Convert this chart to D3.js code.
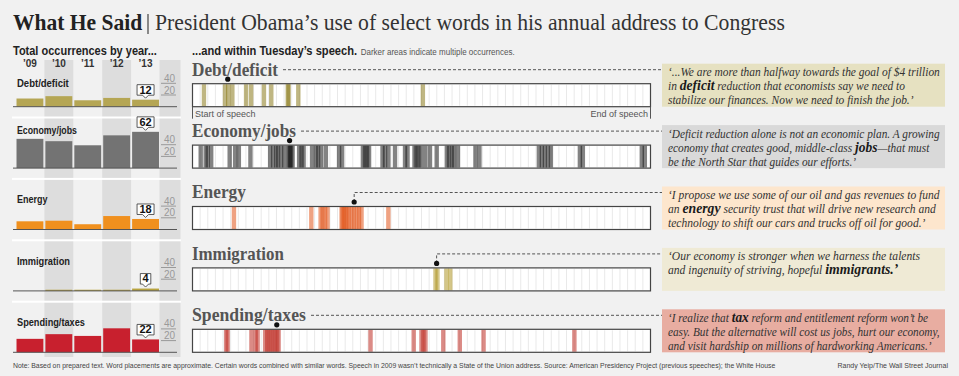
<!DOCTYPE html>
<html>
<head>
<meta charset="utf-8">
<script src="https://cdn.jsdelivr.net/npm/d3@7"></script>
<style>
  body { margin: 0; background: #f1f1f1; }
  text { font-family: "Liberation Sans", Roboto, sans-serif; }
</style>
</head>
<body>
<div id="container"></div>
<script>
const width = 959, height = 376;

/* DATA */
const years = ["’09", "’10", "’11", "’12", "’13"];
const topics = ["Debt/deficit", "Economy/jobs", "Energy", "Immigration", "Spending/taxes"];

// total occurrences per annual address
const debtByYear = [14, 18, 11, 15, 12];
const economyByYear = [50, 46, 39, 56, 62];
const energyByYear = [14, 15, 9, 23, 18];
const immigrationByYear = [0, 2, 2, 2, 4];
const spendingByYear = [23, 31, 28, 41, 22];
const axisTicks = [20, 40];

// where each occurrence falls in Tuesday's speech (% of the way through)
const debtInSpeech = [2.5, 7.1, 7.8, 8.7, 11.7, 12.8, 15.6, 17.2, 20.8, 21.0, 23.1, 50.3];
const economyInSpeech = [1.79, 2.88, 3.32, 4.08, 8.12, 9.31, 10.12, 12.65, 16.95, 17.6, 18.26, 18.69,
  19.35, 20.0, 20.88, 21.2, 21.31, 21.53, 21.86, 23.28, 23.82, 24.26, 26.11, 26.98, 27.42, 28.08,
  29.12, 32.0, 32.66, 37.24, 37.67, 38.11, 38.55, 41.49, 42.04, 42.76, 44.22, 46.4, 46.95, 48.47,
  48.91, 49.35, 49.89, 50.83, 51.85, 53.32, 55.56, 56.0, 56.65, 57.09, 57.96, 61.78, 62.65, 75.63,
  76.29, 76.94, 77.6, 78.25, 84.58, 85.23, 98.1, 98.76];
const energyInSpeech = [9.05, 25.94, 27.97, 28.4, 28.95, 29.49, 32.55, 32.77, 33.09, 33.42, 33.75,
  34.18, 34.73, 35.27, 35.82, 36.36, 36.91, 42.76];
const immigrationInSpeech = [53.05, 53.49, 55.45, 56.28];
const spendingInSpeech = [7.35, 7.68, 12.87, 13.79, 14.22, 15.86, 16.3, 16.73, 17.17, 17.61, 18.04,
  18.48, 18.8, 38.87, 48.3, 50.0, 50.44, 50.87, 54.76, 58.36, 63.55, 83.38];

// spot of the quoted passage (% of speech)
const quoteSpots = [7.7, 21.2, 35.3, 53.3, 18.4];

// quotes, keyword between asterisks
const debtQuote = ["‘...We are more than halfway towards the goal of $4 trillion",
  "in *deficit* reduction that economists say we need to",
  "stabilize our finances. Now we need to finish the job.’"];
const economyQuote = ["‘Deficit reduction alone is not an economic plan.  A growing",
  "economy that creates good, middle-class *jobs*—that must",
  "be the North Star that guides our efforts.’"];
const energyQuote = ["‘I propose we use some of our oil and gas revenues to fund",
  "an *energy* security trust that will drive new research and",
  "technology to shift our cars and trucks off oil for good.’"];
const immigrationQuote = ["‘Our economy is stronger when we harness the talents",
  "and ingenuity of striving, hopeful *immigrants.’*"];
const spendingQuote = ["‘I realize that *tax* reform and entitlement reform won’t be",
  "easy. But the alternative will cost us jobs, hurt our economy,",
  "and visit hardship on millions of hardworking Americans.’"];

const byYear = [debtByYear, economyByYear, energyByYear, immigrationByYear, spendingByYear];
const inSpeech = [debtInSpeech, economyInSpeech, energyInSpeech, immigrationInSpeech, spendingInSpeech];
const quotes = [debtQuote, economyQuote, energyQuote, immigrationQuote, spendingQuote];

/* STYLES */
const barColors = ["#b5a654", "#737373", "#f0901e", "#b8a33e", "#c8202e"];
const markColors = ["#8a7a1c", "#1e1e1e", "#e2561b", "#b09826", "#bd2b22"];
const quoteFills = ["#e6e1c1", "#d9d9d9", "#fde6cd", "#efead5", "#e8ada1"];

const baseline0 = 106.7, rowStep = 61.4;
const baseY = i => baseline0 + i * rowStep;

// squeeze a text element horizontally (about its anchor) if it runs wider than w
function fit(sel, w) {
  sel.each(function () {
    const bbw = this.getBBox().width;
    if (bbw > w) {
      const ax = +this.getAttribute("x");
      const k = w / bbw;
      d3.select(this).attr("transform", `translate(${ax},0) scale(${k},1) translate(${-ax},0)`);
    }
  });
  return sel;
}

const svg = d3.select("#container")
  .append("svg")
  .attr("width", width)
  .attr("height", height);

svg.append("rect").attr("width", width).attr("height", height).attr("fill", "#f1f1f1");

/* TITLE */
svg.append("text").attr("x", 13).attr("y", 30)
  .style("font-family", "'Liberation Serif', serif").style("font-weight", "bold")
  .style("font-size", "24px").attr("fill", "#222").text("What He Said")
  .call(fit, 130);
svg.append("line").attr("x1", 148).attr("x2", 148).attr("y1", 14).attr("y2", 34)
  .attr("stroke", "#444").attr("stroke-width", 1.2);
svg.append("text").attr("x", 155).attr("y", 30)
  .style("font-family", "'Liberation Serif', serif")
  .style("font-size", "23px").attr("fill", "#333")
  .text("President Obama’s use of select words in his annual address to Congress")
  .call(fit, 630);

svg.append("text").attr("x", 13).attr("y", 55)
  .style("font-weight", "bold").style("font-size", "12.5px").attr("fill", "#222")
  .text("Total occurrences by year...").call(fit, 144);

const sub = svg.append("text").attr("x", 192).attr("y", 55).attr("fill", "#222");
sub.append("tspan").style("font-weight", "bold").style("font-size", "12.5px")
  .text("...and within Tuesday’s speech.");
sub.append("tspan").attr("dx", 4).style("font-size", "9px").attr("fill", "#555")
  .text("Darker areas indicate multiple occurrences.");
sub.call(fit, 323);

/* LEFT: BY YEAR */
const xScale = d3.scaleBand()
  .domain(years)
  .range([15.5, 160])
  .paddingInner(0.07)
  .paddingOuter(0.035);

const hScale = d3.scaleLinear()
  .domain([0, 40])
  .range([0, 23.4]);

const left = svg.append("g");

// shaded columns
left.selectAll(".band")
  .data(years.filter((d, i) => i % 2 === 1))
  .join("rect")
  .attr("x", d => xScale(d) - 1)
  .attr("width", xScale.bandwidth() + 2)
  .attr("y", 60).attr("height", 297)
  .attr("fill", "#dddddd");
left.append("rect").attr("x", 159.5).attr("width", 21).attr("y", 60).attr("height", 297)
  .attr("fill", "#dddddd");

left.selectAll(".year")
  .data(years)
  .join("text")
  .attr("x", d => xScale(d) + xScale.bandwidth() / 2)
  .attr("y", 67)
  .attr("text-anchor", "middle")
  .style("font-size", "10px").style("font-weight", "bold")
  .attr("fill", "#333")
  .text(d => d);

// white separators
left.selectAll(".sep")
  .data(d3.range(4))
  .join("rect")
  .attr("x", 12).attr("width", 169)
  .attr("y", i => baseY(i) + 9.8).attr("height", 2)
  .attr("fill", "#ffffff");

topics.forEach((topic, i) => {
  const b = baseY(i);
  const vals = byYear[i];
  const g = left.append("g");

  g.selectAll("rect")
    .data(vals)
    .join("rect")
    .attr("x", (d, j) => xScale(years[j]))
    .attr("width", xScale.bandwidth())
    .attr("y", d => b - hScale(d))
    .attr("height", d => hScale(d))
    .attr("fill", barColors[i]);

  g.append("line").attr("x1", 13).attr("x2", 177).attr("y1", b).attr("y2", b)
    .attr("stroke", "#555").attr("stroke-width", 1);

  // value axis
  g.selectAll(".tick")
    .data(axisTicks)
    .join("line")
    .attr("x1", 161).attr("x2", 176)
    .attr("y1", d => b - hScale(d)).attr("y2", d => b - hScale(d))
    .attr("stroke", "#999");
  g.selectAll(".ticklab")
    .data(axisTicks)
    .join("text")
    .attr("x", 175).attr("y", d => b - hScale(d) - 1.5)
    .attr("text-anchor", "end")
    .style("font-size", "10px").attr("fill", "#999")
    .text(d => d);

  // label
  const firstTop = b - hScale(d3.max(vals.slice(0, 3)));
  const labelY = i === 0 ? b - 20 : Math.min(b - 26, firstTop - 5);
  g.append("text").attr("x", 17).attr("y", labelY)
    .style("font-size", "11.5px").style("font-weight", "bold").attr("fill", "#222")
    .text(topic)
    .call(fit, [52, 60, 31, 53, 68][i]);

  // callout for this year
  const last = vals[vals.length - 1];
  const cx = xScale(years[4]) + xScale.bandwidth() / 2;
  const bw = String(last).length * 6.5 + 4;
  const y1 = b - hScale(last) - 4.5, y0 = y1 - 10.5;
  g.append("path")
    .attr("d", `M${cx - bw / 2},${y0}H${cx + bw / 2}V${y1}H${cx + 3}L${cx},${y1 + 3}L${cx - 3},${y1}H${cx - bw / 2}Z`)
    .attr("fill", "#fff").attr("stroke", "#333").attr("stroke-width", 0.8);
  g.append("text").attr("x", cx).attr("y", y1 - 1.6)
    .attr("text-anchor", "middle")
    .style("font-size", "11px").style("font-weight", "bold").attr("fill", "#111")
    .text(last);
});

/* RIGHT: WITHIN THE SPEECH */
const sx = d3.scaleLinear()
  .domain([0, 100])
  .range([192.5, 650.5]);

const right = svg.append("g");

topics.forEach((topic, i) => {
  const b = baseY(i);
  const top = b - 23;
  const g = right.append("g");

  // quote box
  g.append("rect").attr("x", 662).attr("y", b - 43).attr("width", 283).attr("height", 43)
    .attr("fill", quoteFills[i]);

  const title = g.append("text").attr("x", 192).attr("y", b - 31)
    .style("font-family", "'Liberation Serif', serif").style("font-weight", "bold")
    .style("font-size", "18px").attr("fill", "#555")
    .text(topic)
    .call(fit, [86, 104, 54, 92, 114][i]);
  const titleEnd = 192 + Math.min(title.node().getBBox().width, [86, 104, 54, 92, 114][i]);

  g.append("rect").attr("x", sx(0)).attr("y", top).attr("width", sx(100) - sx(0)).attr("height", 23)
    .attr("fill", "#fff");

  g.selectAll(".cell")
    .data(d3.range(1, 60))
    .join("line")
    .attr("x1", d => sx(d * 100 / 60)).attr("x2", d => sx(d * 100 / 60))
    .attr("y1", top + 1).attr("y2", b - 1)
    .attr("stroke", "#e9e9e9").attr("stroke-width", 1);

  g.selectAll(".mark")
    .data(inSpeech[i])
    .join("rect")
    .attr("x", d => sx(d) - 2.2)
    .attr("width", 4.4)
    .attr("y", top + 0.5)
    .attr("height", 22)
    .attr("fill", markColors[i])
    .attr("fill-opacity", 0.55);

  g.append("rect").attr("x", sx(0)).attr("y", top).attr("width", sx(100) - sx(0)).attr("height", 23)
    .attr("fill", "none").attr("stroke", "#444").attr("stroke-width", 1.2);

  // leader from the quoted spot to the quote
  const dotX = sx(quoteSpots[i]);
  const ly = b - 37;
  let leader;
  if (dotX > titleEnd + 4) {
    leader = `M${dotX},${top - 4.5}V${ly}H662`;
  } else {
    leader = `M${titleEnd + 5},${ly}H662`;
  }
  g.append("path").attr("d", leader)
    .attr("fill", "none").attr("stroke", "#555").attr("stroke-width", 1)
    .attr("stroke-dasharray", "3,2");
  g.append("circle").attr("cx", dotX).attr("cy", top - 4.5).attr("r", 2.6).attr("fill", "#111");

  // quote text, one text element per quote
  const q = g.append("text").attr("x", 668).attr("y", b - 30.5)
    .style("font-family", "'Liberation Serif', serif").style("font-style", "italic")
    .style("font-size", "11.6px").attr("fill", "#333");
  quotes[i].forEach((line, k) => {
    const ln = q.append("tspan").attr("x", 668).attr("dy", k === 0 ? 0 : 14);
    line.split("*").forEach((seg, s) => {
      const ts = ln.append("tspan").text(seg);
      if (s % 2 === 1) {
        ts.style("font-weight", "bold").style("font-size", "13.8px").attr("fill", "#1a1a1a");
      }
    });
  });
  fit(q, 272);

  if (i === 0) {
    g.append("text").attr("x", 195).attr("y", b + 10.5)
      .style("font-size", "9px").attr("fill", "#555").text("Start of speech");
    g.append("text").attr("x", 648).attr("y", b + 10.5).attr("text-anchor", "end")
      .style("font-size", "9px").attr("fill", "#555").text("End of speech");
    g.selectAll(".edge")
      .data([0, 100])
      .join("line")
      .attr("x1", d => sx(d)).attr("x2", d => sx(d))
      .attr("y1", b).attr("y2", b + 12)
      .attr("stroke", "#555");
  }
});

/* FOOTER */
svg.append("text").attr("x", 13).attr("y", 368)
  .style("font-size", "8px").attr("fill", "#444")
  .text("Note: Based on prepared text. Word placements are approximate. Certain words combined with similar words. Speech in 2009 wasn’t technically a State of the Union address.    Source: American Presidency Project (previous speeches); the White House")
  .call(fit, 765);
svg.append("text").attr("x", 948).attr("y", 368).attr("text-anchor", "end")
  .style("font-size", "8px").attr("fill", "#444")
  .text("Randy Yeip/The Wall Street Journal")
  .call(fit, 111);
</script>
</body>
</html>
